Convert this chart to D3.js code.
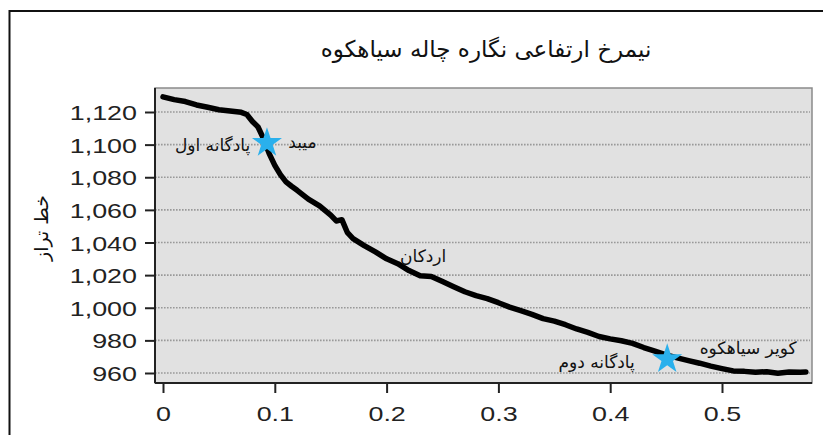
<!DOCTYPE html>
<html>
<head>
<meta charset="utf-8">
<script src="https://cdn.jsdelivr.net/npm/d3@7/dist/d3.min.js"></script>
<style>
  html, body { margin: 0; padding: 0; background: #fff; }
  svg { display: block; }
  .tick text { font-family: "Liberation Sans", Arial, sans-serif; font-size: 21px; fill: #222; }
  .fa { font-family: "DejaVu Sans", sans-serif; }
</style>
</head>
<body>
<svg id="chart"></svg>
<script>
  // Profile data (distance, elevation)
  const distance = [
    0.000, 0.010, 0.020, 0.030, 0.040, 0.050, 0.060, 0.070, 0.075, 0.080,
    0.085, 0.090, 0.095, 0.100, 0.105, 0.110, 0.115, 0.120, 0.130, 0.140,
    0.150, 0.155, 0.160, 0.165, 0.170, 0.180, 0.190, 0.200, 0.210, 0.220,
    0.230, 0.240, 0.250, 0.260, 0.270, 0.280, 0.290, 0.300, 0.310, 0.320,
    0.330, 0.340, 0.350, 0.360, 0.370, 0.380, 0.390, 0.400, 0.410, 0.420,
    0.430, 0.440, 0.450, 0.460, 0.470, 0.480, 0.490, 0.500, 0.510, 0.520,
    0.530, 0.540, 0.550, 0.560, 0.570, 0.575
  ];
  const elevation = [
    1129.3, 1127.6, 1126.4, 1124.3, 1122.9, 1121.4, 1120.6, 1119.8, 1118.5, 1114.2,
    1110.8, 1103.5, 1094.5, 1087.3, 1081.6, 1077.2, 1074.5, 1072.0, 1066.6, 1062.5,
    1056.8, 1053.2, 1054.0, 1046.0, 1042.4, 1038.1, 1034.2, 1030.0, 1027.0, 1022.8,
    1019.6, 1019.2, 1016.1, 1012.9, 1009.8, 1007.4, 1005.6, 1003.1, 1000.4, 998.2,
    995.9, 993.3, 991.8, 989.6, 987.0, 984.9, 982.4, 980.9, 979.8, 978.2,
    975.6, 973.4, 971.1, 969.3, 967.6, 966.0, 964.2, 962.7, 961.3, 961.0,
    960.4, 960.8, 959.9, 960.6, 960.5, 960.6
  ];

  // Terrace stars
  const starX = [0.093, 0.451];
  const starY = [1101, 968.5];

  // Place labels
  const labelX = [0.078, 0.112, 0.212, 0.422, 0.480];
  const labelY = [1099.5, 1101.5, 1031.5, 966.5, 975];
  const labelText = ["پادگانه اول", "میبد", "اردکان", "پادگانه دوم", "کویر سیاهکوه"];
  const labelAnchor = ["end", "start", "start", "end", "start"];

  const yTicks = [960, 980, 1000, 1020, 1040, 1060, 1080, 1100, 1120];
  const xTicks = [0, 0.1, 0.2, 0.3, 0.4, 0.5];

  const width = 823, height = 435;
  const plot = { left: 155, top: 88, right: 812, bottom: 383 };
  const stretch = 1.28; // tick labels in the source are horizontally wide

  const svg = d3.select("#chart").attr("width", width).attr("height", height);

  // Outer frame
  svg.append("rect")
    .attr("x", 9.5).attr("y", 11)
    .attr("width", 830).attr("height", 440)
    .attr("fill", "none").attr("stroke", "#111").attr("stroke-width", 2);

  const x = d3.scaleLinear().domain([0, 0.1]).range([163, 274.8]);
  const y = d3.scaleLinear().domain([960, 1120]).range([373, 112]);

  // Plot background
  svg.append("rect")
    .attr("x", plot.left).attr("y", plot.top)
    .attr("width", plot.right - plot.left).attr("height", plot.bottom - plot.top)
    .attr("fill", "#e1e1e1").attr("stroke", "#8a8a8a").attr("stroke-width", 1.5);

  // Grid lines
  svg.append("g")
    .selectAll("line")
    .data(yTicks)
    .join("line")
    .attr("x1", plot.left).attr("x2", plot.right - 2)
    .attr("y1", d => y(d)).attr("y2", d => y(d))
    .attr("stroke", "#999").attr("stroke-width", 1.6)
    .attr("stroke-dasharray", "1.6,1.4");

  // Axes
  const yAxis = svg.append("g")
    .attr("transform", `translate(${plot.left},0)`)
    .call(d3.axisLeft(y).tickValues(yTicks).tickSize(10).tickPadding(7).tickFormat(d3.format(",")));
  yAxis.select(".domain").attr("d", `M0,${plot.top}V${plot.bottom}`).attr("stroke", "#222").attr("stroke-width", 2);
  yAxis.selectAll(".tick line").attr("stroke", "#222").attr("stroke-width", 2);
  yAxis.selectAll(".tick text")
    .attr("dy", "0.36em")
    .attr("x", -18 / stretch)
    .attr("transform", `scale(${stretch},1)`);

  const xAxis = svg.append("g")
    .attr("transform", `translate(0,${plot.bottom})`)
    .call(d3.axisBottom(x).tickValues(xTicks).tickSize(10).tickPadding(13).tickFormat(d => d === 0 ? "0" : d3.format(".1f")(d)));
  xAxis.select(".domain").attr("d", `M${plot.left},0H${plot.right}`).attr("stroke", "#222").attr("stroke-width", 2);
  xAxis.selectAll(".tick line").attr("stroke", "#222").attr("stroke-width", 2);
  xAxis.selectAll(".tick text").attr("transform", `scale(${stretch},1)`);

  // Profile line
  const line = d3.line()
    .x((d, i) => x(distance[i]))
    .y(d => y(d));

  svg.append("path")
    .datum(elevation)
    .attr("d", line)
    .attr("fill", "none")
    .attr("stroke", "#000")
    .attr("stroke-width", 5.5)
    .attr("stroke-linejoin", "round")
    .attr("stroke-linecap", "round");

  // Stars
  const star = d3.symbol().type(d3.symbolStar).size(280);
  svg.append("g")
    .selectAll("path")
    .data(starX)
    .join("path")
    .attr("d", star)
    .attr("transform", (d, i) => `translate(${x(d)},${y(starY[i])})`)
    .attr("fill", "#2ab0ec");

  // Place labels
  svg.append("g")
    .selectAll("text")
    .data(labelText)
    .join("text")
    .attr("class", "fa")
    .attr("x", (d, i) => x(labelX[i]))
    .attr("y", (d, i) => y(labelY[i]))
    .attr("text-anchor", (d, i) => labelAnchor[i])
    .attr("dy", "0.35em")
    .attr("font-size", 17)
    .attr("fill", "#111")
    .text(d => d);

  // Title
  svg.append("text")
    .attr("class", "fa")
    .attr("x", 486).attr("y", 57)
    .attr("text-anchor", "middle")
    .attr("font-size", 23)
    .attr("fill", "#111")
    .text("نیمرخ ارتفاعی نگاره چاله سیاهکوه");

  // Y axis title
  svg.append("text")
    .attr("class", "fa")
    .attr("transform", "translate(48,228) rotate(-90)")
    .attr("text-anchor", "middle")
    .attr("font-size", 19)
    .attr("fill", "#111")
    .text("خط تراز");
</script>
</body>
</html>
